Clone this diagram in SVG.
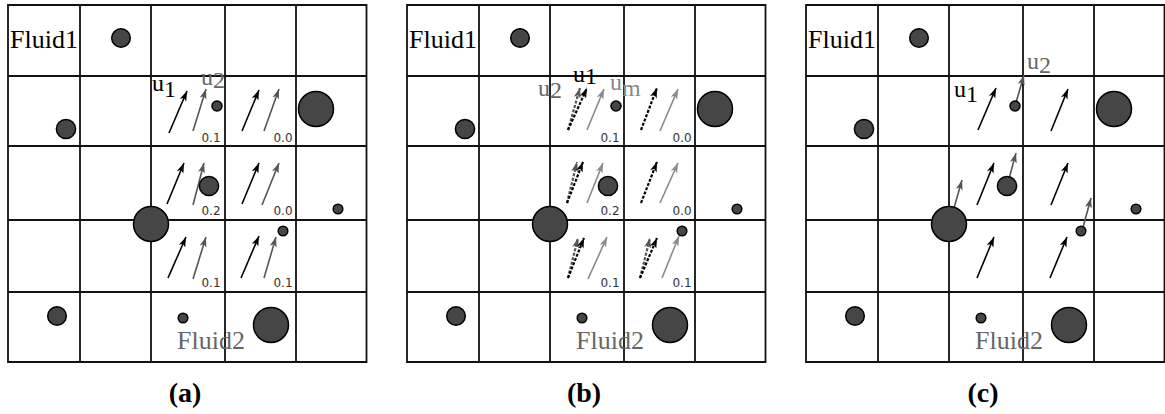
<svg xmlns="http://www.w3.org/2000/svg" xmlns:xlink="http://www.w3.org/1999/xlink" width="1165" height="414" viewBox="0 0 1165 414">
<style>
.g{stroke:#111;stroke-width:1.8;fill:none}
.p{fill:#464646;stroke:#000;stroke-width:1.5}
.serif{font-family:"Liberation Serif","DejaVu Serif",serif}
.lab{font-family:"DejaVu Sans","Liberation Sans",sans-serif;font-size:12px;fill:#333;text-anchor:middle}
.k{stroke:#000;stroke-width:1.6;fill:none;marker-end:url(#hk)}
.gr{stroke:#555;stroke-width:1.6;fill:none;marker-end:url(#hg)}
.lt{stroke:#8a8a8a;stroke-width:1.6;fill:none;marker-end:url(#hl)}
.kd{stroke:#000;stroke-width:2.2;stroke-dasharray:3 1.6;fill:none;marker-end:url(#hk)}
.gd{stroke:#555;stroke-width:2.2;stroke-dasharray:3 1.6;fill:none;marker-end:url(#hg)}
.cap{font-family:"Liberation Serif","DejaVu Serif",serif;font-weight:bold;font-size:28px;text-anchor:middle;fill:#000}
</style>
<defs>
<marker id="hk" markerUnits="userSpaceOnUse" markerWidth="11" markerHeight="8" refX="10" refY="4" orient="auto"><path d="M0,0.5 L10,4 L0,7.5 L2.5,4 z" fill="#000"/></marker>
<marker id="hg" markerUnits="userSpaceOnUse" markerWidth="11" markerHeight="8" refX="10" refY="4" orient="auto"><path d="M0,0.5 L10,4 L0,7.5 L2.5,4 z" fill="#555"/></marker>
<marker id="hl" markerUnits="userSpaceOnUse" markerWidth="11" markerHeight="8" refX="10" refY="4" orient="auto"><path d="M0,0.5 L10,4 L0,7.5 L2.5,4 z" fill="#8a8a8a"/></marker>
<g id="gridbase">
<path class="g" d="M8,5 H366.5 V362 H8 Z M80,5 V362 M151,5 V362 M225,5 V362 M296,5 V362 M8,76 H366.5 M8,146 H366.5 M8,220 H366.5 M8,292 H366.5"/>
</g>
<g id="particles">
<circle class="p" cx="121" cy="38" r="9.3"/>
<circle class="p" cx="66" cy="129" r="9.6"/>
<circle class="p" cx="217" cy="106" r="5"/>
<circle class="p" cx="316" cy="109" r="17.5"/>
<circle class="p" cx="209" cy="186" r="9.6"/>
<circle class="p" cx="151" cy="224" r="17.5"/>
<circle class="p" cx="338" cy="209" r="4.8"/>
<circle class="p" cx="283" cy="231" r="4.8"/>
<circle class="p" cx="57" cy="316" r="9.3"/>
<circle class="p" cx="183" cy="318" r="4.8"/>
<circle class="p" cx="271" cy="325" r="17.5"/>
</g>
<g id="fluids">
<text class="serif" x="10" y="48" font-size="26" fill="#000">Fluid1</text>
<text class="serif" x="177" y="349" font-size="26" fill="#666">Fluid2</text>
</g>
</defs>

<g id="panel-a">
<use xlink:href="#gridbase"/>
<g id="connectors-a">
<line class="k" x1="169" y1="133" x2="187" y2="91"/>
<line class="gr" x1="193" y1="131" x2="206" y2="89"/>
<line class="k" x1="242" y1="131" x2="259" y2="90"/>
<line class="gr" x1="264" y1="131" x2="279" y2="89"/>
<line class="k" x1="167" y1="204" x2="184" y2="163"/>
<line class="gr" x1="193" y1="205" x2="204" y2="163"/>
<line class="k" x1="242" y1="204" x2="259" y2="163"/>
<line class="gr" x1="262" y1="205" x2="279" y2="163"/>
<line class="k" x1="168" y1="278" x2="186" y2="237"/>
<line class="gr" x1="193" y1="279" x2="206" y2="237"/>
<line class="k" x1="241" y1="278" x2="259" y2="236"/>
<line class="gr" x1="264" y1="278" x2="276" y2="237"/>
</g>
<use xlink:href="#particles"/>
<use xlink:href="#fluids"/>
<g id="labels-a">
<text class="serif" x="152" y="91" font-size="24" fill="#000">u<tspan dy="6">1</tspan></text>
<text class="serif" x="201" y="85" font-size="24" fill="#666">u<tspan dy="3">2</tspan></text>
<text class="lab" x="211" y="142">0.1</text>
<text class="lab" x="283" y="142">0.0</text>
<text class="lab" x="211" y="215">0.2</text>
<text class="lab" x="283" y="215">0.0</text>
<text class="lab" x="211" y="287">0.1</text>
<text class="lab" x="283" y="287">0.1</text>
</g>
<text class="cap" x="185" y="402">(a)</text>
</g>

<g id="panel-b">
<use xlink:href="#gridbase" transform="translate(399,0)"/>
<g id="connectors-b">
<line class="gd" x1="568" y1="130" x2="580" y2="88"/>
<line class="kd" x1="568" y1="130" x2="587" y2="88"/>
<line class="lt" x1="587" y1="130" x2="604" y2="89"/>
<line class="kd" x1="641" y1="130" x2="657" y2="88"/>
<line class="lt" x1="660" y1="131" x2="678" y2="89"/>
<line class="gd" x1="567" y1="203" x2="577" y2="162"/>
<line class="kd" x1="567" y1="203" x2="583" y2="162"/>
<line class="lt" x1="587" y1="203" x2="603" y2="163"/>
<line class="kd" x1="641" y1="203" x2="657" y2="162"/>
<line class="lt" x1="660" y1="203" x2="678" y2="163"/>
<line class="gd" x1="568" y1="278" x2="578" y2="238"/>
<line class="kd" x1="568" y1="278" x2="584" y2="238"/>
<line class="lt" x1="588" y1="279" x2="607" y2="237"/>
<line class="gd" x1="640" y1="278" x2="650" y2="238"/>
<line class="kd" x1="640" y1="278" x2="657" y2="238"/>
<line class="lt" x1="662" y1="278" x2="679" y2="236"/>
</g>
<use xlink:href="#particles" transform="translate(399,0)"/>
<use xlink:href="#fluids" transform="translate(399,0)"/>
<g id="labels-b">
<text class="serif" x="573" y="82" font-size="24" fill="#000">u<tspan dy="2">1</tspan></text>
<text class="serif" x="538" y="96" font-size="24" fill="#666">u<tspan dy="2">2</tspan></text>
<text class="serif" x="610" y="90" font-size="24" fill="#888">u<tspan dy="6">m</tspan></text>
<text class="lab" x="610" y="142">0.1</text>
<text class="lab" x="682" y="142">0.0</text>
<text class="lab" x="610" y="215">0.2</text>
<text class="lab" x="682" y="215">0.0</text>
<text class="lab" x="610" y="287">0.1</text>
<text class="lab" x="682" y="287">0.1</text>
</g>
<text class="cap" x="584" y="402">(b)</text>
</g>

<g id="panel-c">
<use xlink:href="#gridbase" transform="translate(798,0)"/>
<g id="connectors-c">
<line class="k" x1="978" y1="130" x2="996" y2="88"/>
<line class="k" x1="1051" y1="131" x2="1068" y2="89"/>
<line class="k" x1="977" y1="205" x2="994" y2="163"/>
<line class="k" x1="1051" y1="205" x2="1068" y2="163"/>
<line class="k" x1="977" y1="278" x2="994" y2="237"/>
<line class="k" x1="1050" y1="278" x2="1067" y2="237"/>
<line class="gr" x1="1015" y1="106" x2="1024" y2="75"/>
<line class="gr" x1="1007" y1="186" x2="1016" y2="153"/>
<line class="gr" x1="950" y1="222" x2="962" y2="180"/>
<line class="gr" x1="1082" y1="231" x2="1091" y2="198"/>
</g>
<use xlink:href="#particles" transform="translate(798,0)"/>
<use xlink:href="#fluids" transform="translate(798,0)"/>
<g id="labels-c">
<text class="serif" x="954" y="97" font-size="24" fill="#000">u<tspan dy="5">1</tspan></text>
<text class="serif" x="1027" y="69" font-size="24" fill="#666">u<tspan dy="4">2</tspan></text>
</g>
<text class="cap" x="983" y="402">(c)</text>
</g>
</svg>
